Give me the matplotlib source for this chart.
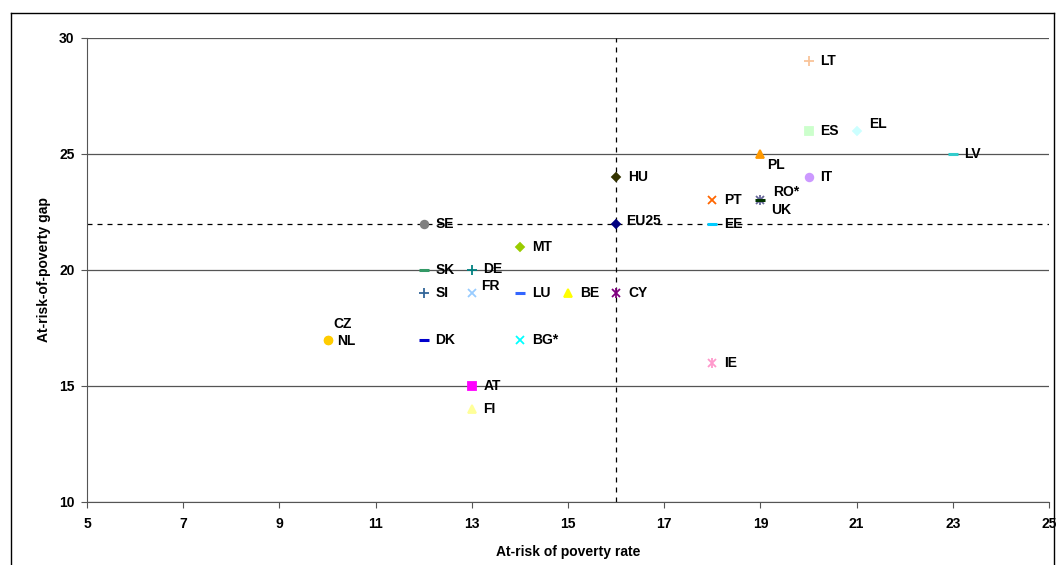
import matplotlib
matplotlib.use("Agg")
import matplotlib.pyplot as plt
from matplotlib.lines import Line2D

plt.rcParams['font.family'] = ['Liberation Sans', 'DejaVu Sans']

countries = ["LT", "ES", "EL", "LV", "PL", "IT", "HU", "PT", "RO*", "UK", "EE", "EU25",
             "SE", "MT", "SK", "DE", "SI", "FR", "LU", "BE", "CY", "CZ", "NL", "DK",
             "BG*", "IE", "AT", "FI"]
poverty_rate = [20, 20, 21, 23, 19, 20, 16, 18, 19, 19, 18, 16,
                12, 14, 12, 13, 12, 13, 14, 15, 16, 10, 10, 12,
                14, 18, 13, 13]
poverty_gap = [29, 26, 26, 25, 25, 24, 24, 23, 23, 23, 22, 22,
               22, 21, 20, 20, 19, 19, 19, 19, 19, 17, 17, 17,
               17, 16, 15, 14]
eu_rate = 16
eu_gap = 22

styles = {
    "LT": ("+", "#F9C49A"), "ES": ("s", "#CCFFCC"), "EL": ("D", "#CCFFFF"),
    "LV": ("_", "#33CCCC"), "PL": ("^", "#FF9900"), "IT": ("o", "#CC99FF"),
    "HU": ("D", "#333300"), "PT": ("x", "#FF6600"), "RO*": ("*", "#666699"),
    "UK": ("_", "#003300"), "EE": ("_", "#00CCFF"), "EU25": ("D", "#000080"),
    "SE": ("o", "#808080"), "MT": ("D", "#99CC00"), "SK": ("_", "#339966"),
    "DE": ("+", "#008080"), "SI": ("+", "#336699"), "FR": ("x", "#99CCFF"),
    "LU": ("_", "#3366FF"), "BE": ("^", "#FFFF00"), "CY": ("x", "#800080"),
    "CZ": ("o", "#FFCC00"), "NL": ("o", "#FFCC00"), "DK": ("_", "#0000CC"),
    "BG*": ("x", "#00FFFF"), "IE": ("x", "#FF99CC"), "AT": ("s", "#FF00FF"),
    "FI": ("^", "#FFFF99"),
}
offsets = {"EL": (9, 5), "PL": (5, -8), "RO*": (9, 6), "UK": (8, -7),
           "CZ": (4, 11), "NL": (7, -1), "FR": (7, 5), "EU25": (7, 2), "DE": (8, 1)}
sizes = {"+": 7, "x": 6, "_": 7, "s": 5.5, "D": 4.5, "^": 6, "o": 5.5, "*": 7}

fig = plt.figure(figsize=(10.56, 5.65), dpi=100)
ax = fig.add_axes([87/1056, 1-502/565, (1049-87)/1056, (502-38)/565])

ax.set_xlim(5, 25)
ax.set_ylim(10, 30)
ax.set_xticks(range(5, 26, 2))
ax.set_yticks(range(10, 31, 5))
ax.yaxis.grid(True, color="#555555", linewidth=0.9)
ax.set_axisbelow(True)
for s in ["top", "right"]:
    ax.spines[s].set_visible(False)
ax.spines["left"].set_color("#555555")
ax.spines["bottom"].set_color("#555555")
ax.tick_params(axis="both", length=4, width=0.8, color="#555555", labelsize=10)
ax.tick_params(axis="x", pad=7)
ax.tick_params(axis="y", pad=5)
for lab in ax.get_xticklabels() + ax.get_yticklabels():
    lab.set_fontweight("bold")

ax.axvline(eu_rate, color="black", linestyle=(0, (4, 4)), linewidth=0.9, zorder=1)
ax.axhline(eu_gap, color="black", linestyle=(0, (4, 4)), linewidth=0.9, zorder=1)

for c, x, y in zip(countries, poverty_rate, poverty_gap):
    m, col = styles[c]
    if c == "IE" or c == "CY" or c == "RO*":
        ax.plot(x, y, marker="x", color=col, markersize=6, mew=1.3, linestyle="none", zorder=3)
        ax.plot(x, y, marker="|", color=col, markersize=7, mew=1.3, linestyle="none", zorder=3)
    else:
        mew = 2.2 if m == "_" else 1.3
        ax.plot(x, y, marker=m, color=col, markersize=sizes[m], mew=mew,
                markeredgecolor=col, linestyle="none", zorder=3)
    dx, dy = offsets.get(c, (8.5, 0))
    ax.annotate(c, (x, y), xytext=(dx, dy), textcoords="offset points",
                fontsize=10, fontweight="bold", va="center", ha="left", zorder=4)

ax.set_xlabel("At-risk of poverty rate", fontsize=10, fontweight="bold", labelpad=10)
ax.set_ylabel("At-risk-of-poverty gap", fontsize=10, fontweight="bold", labelpad=6)

# outer frame
fx0, fx1, fy1 = 11/1056, 1054/1056, 1-13/565
for xs, ys in [((fx0, fx0), (0, fy1)), ((fx0, fx1), (fy1, fy1)), ((fx1, fx1), (0, fy1))]:
    fig.add_artist(Line2D(xs, ys, color="black", linewidth=1, transform=fig.transFigure))

fig.savefig("out.png", dpi=100)
